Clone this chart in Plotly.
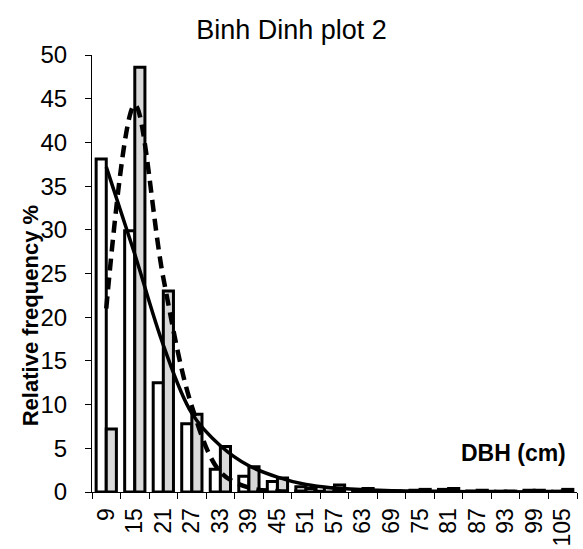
import plotly.graph_objects as go

# DBH classes (cm), class midpoints
dbh_classes = ["9", "15", "21", "27", "33", "39", "45", "51", "57",
               "63", "69", "75", "81", "87", "93", "99", "105"]

# Relative frequency (%) per DBH class, two bar series
freq_white = [38.1, 29.9, 12.5, 7.8, 2.6, 1.8, 1.2, 0.6, 0.5,
              0.3, 0.1, 0.2, 0.3, 0.1, 0.1, 0.2, 0.1]
freq_gray = [7.2, 48.6, 23.0, 8.9, 5.2, 2.9, 1.6, 0.4, 0.8,
             0.4, 0.1, 0.3, 0.4, 0.2, 0.1, 0.2, 0.3]

# Fitted distributions (%)
fit_solid = [37.2, 27.2, 16.8, 9.0, 5.3, 3.0, 1.7, 0.85, 0.45,
             0.25, 0.15, 0.08, 0.05, 0.03, 0.02, 0.01, 0.0]
fit_dashed = [21.0, 44.3, 24.5, 9.8, 2.3, 0.5, 0.1, 0.02, 0.0,
              0.0, 0.0, 0.0, 0.0, 0.0, 0.0, 0.0, 0.0]

FONT = "Liberation Sans, Arial, sans-serif"

fig = go.Figure()
fig.add_trace(go.Bar(x=dbh_classes, y=freq_white, name="Series 1",
                     marker=dict(color="white", line=dict(color="black", width=3))))
fig.add_trace(go.Bar(x=dbh_classes, y=freq_gray, name="Series 2",
                     marker=dict(color="#d9d9d9", line=dict(color="black", width=3))))
fig.add_trace(go.Scatter(x=dbh_classes, y=fit_solid, mode="lines", name="Fit 1",
                         line=dict(color="black", width=3.5, shape="spline", smoothing=1)))
fig.add_trace(go.Scatter(x=dbh_classes, y=fit_dashed, mode="lines", name="Fit 2",
                         line=dict(color="black", width=4.5, dash="12px,7px",
                                   shape="spline", smoothing=1)))

fig.update_layout(
    width=583, height=549,
    margin=dict(l=92, r=6, t=55, b=57, autoexpand=False),
    paper_bgcolor="white", plot_bgcolor="white",
    barmode="group", bargap=0.29, bargroupgap=0,
    showlegend=False,
    font=dict(family=FONT, size=24, color="black"),
    title=dict(text="Binh Dinh plot 2", x=0.5, xref="container", xanchor="center",
               y=1 - 30 / 549, yref="container", yanchor="middle",
               font=dict(family=FONT, size=27, color="black")),
    xaxis=dict(type="category", tickson="boundaries", ticks="outside", ticklen=6,
               tickcolor="black", showline=True, linecolor="black", linewidth=1,
               tickangle=-90, showgrid=False, zeroline=False, ticklabelstandoff=6,
               automargin=False, tickfont=dict(family=FONT, size=23)),
    yaxis=dict(range=[0, 50], dtick=5, ticks="outside", ticklen=6, tickcolor="black",
               showline=True, linecolor="black", linewidth=1, showgrid=False,
               zeroline=False, ticklabelstandoff=13, automargin=False,
               tickfont=dict(family=FONT, size=24)),
    annotations=[
        dict(text="<b>Relative frequency %</b>", xref="paper", yref="paper",
             x=-0.125, y=0.403, xanchor="center", yanchor="middle", textangle=-90,
             showarrow=False, font=dict(family=FONT, size=22, color="black")),
        dict(text="<b>DBH (cm)</b>", xref="paper", yref="paper",
             x=0.87, y=0.089, xanchor="center", yanchor="middle",
             showarrow=False, font=dict(family=FONT, size=23, color="black")),
    ],
)

fig.write_html("out.html")
